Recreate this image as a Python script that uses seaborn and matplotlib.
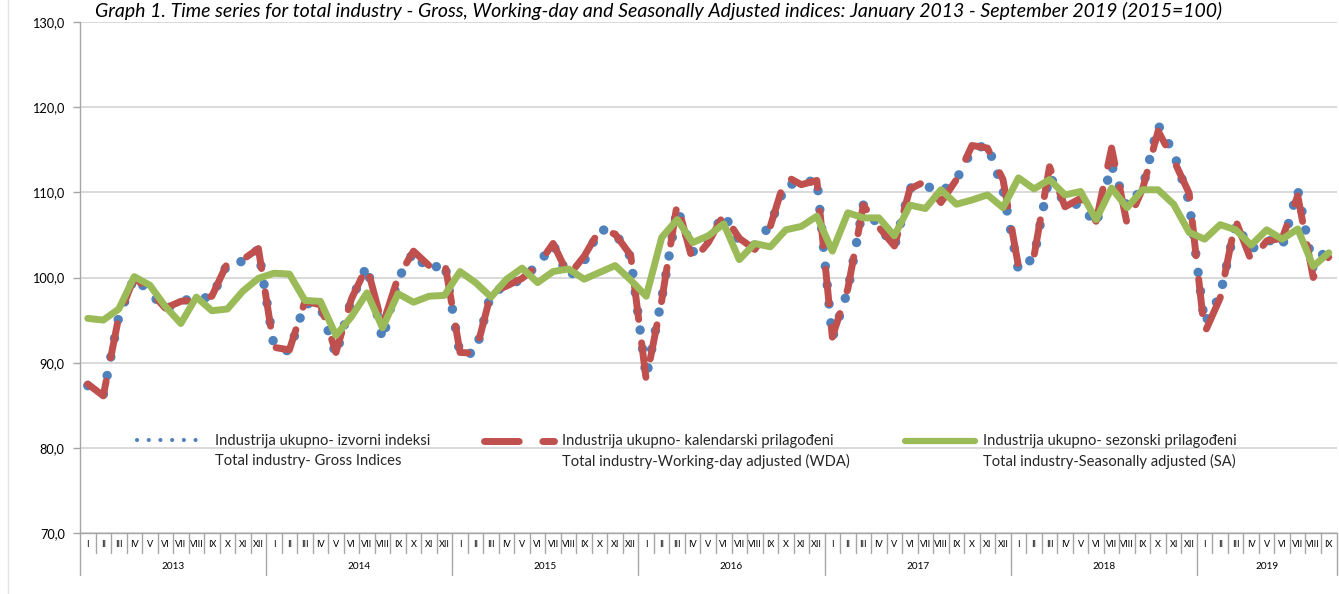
import numpy as np
import pandas as pd
import matplotlib
matplotlib.use("Agg")
import matplotlib.pyplot as plt
import seaborn as sns
from matplotlib.lines import Line2D
from matplotlib.legend_handler import HandlerLine2D

# ---------------- data ----------------
years = [2013, 2014, 2015, 2016, 2017, 2018, 2019]
months_roman = ["I", "II", "III", "IV", "V", "VI", "VII", "VIII", "IX", "X", "XI", "XII"]
n_months_last_year = 9

gross = [87.3, 86.2, 95.4, 100.0, 98.3, 96.2, 97.3, 97.5, 97.7, 101.6, 101.9, 103.3,
         92.0, 91.3, 97.0, 96.6, 90.9, 97.4, 101.4, 92.7, 99.8, 103.0, 100.8, 101.8,
         90.9, 91.2, 98.2, 99.0, 99.8, 101.5, 103.9, 100.0, 101.9, 105.7, 105.2, 102.4,
         88.3, 97.5, 108.1, 103.0, 104.5, 107.4, 104.3, 103.8, 106.2, 111.0, 110.9, 111.6,
         92.9, 98.5, 108.5, 106.0, 103.6, 110.5, 110.8, 110.0, 111.5, 115.0, 115.6, 110.3,
         100.8, 102.4, 112.0, 108.6, 108.6, 106.2, 113.2, 108.3, 110.5, 117.9, 114.7, 108.9,
         94.6, 97.9, 106.3, 103.3, 104.5, 103.6, 110.3, 101.0, 103.8]

wda = [87.5, 86.1, 95.4, 100.0, 98.4, 96.4, 97.2, 97.4, 97.8, 101.7, 102.1, 103.4,
       91.8, 91.5, 97.2, 96.8, 91.2, 97.5, 101.3, 94.4, 100.0, 103.1, 101.4, 101.9,
       91.2, 91.1, 98.2, 99.0, 99.9, 101.4, 104.0, 100.2, 102.5, 105.6, 105.1, 102.6,
       88.0, 97.3, 108.7, 101.9, 104.1, 107.4, 104.6, 103.3, 106.0, 111.9, 110.9, 111.4,
       93.0, 98.7, 108.5, 105.9, 103.7, 110.4, 111.3, 108.8, 111.5, 115.5, 115.2, 111.5,
       101.3, 102.5, 113.0, 108.3, 109.3, 106.6, 115.2, 106.3, 110.4, 117.2, 113.8, 109.9,
       93.5, 97.6, 106.7, 102.0, 104.3, 104.6, 109.6, 100.0, 102.4]

sa = [95.2, 95.0, 96.3, 100.1, 99.1, 96.6, 94.6, 97.7, 96.1, 96.3, 98.4, 99.9,
      100.5, 100.4, 97.3, 97.2, 93.2, 95.4, 98.2, 94.1, 98.1, 97.1, 97.8, 97.9,
      100.7, 99.4, 97.7, 99.8, 101.1, 99.4, 100.7, 101.0, 99.8, 100.6, 101.4, 99.7,
      97.8, 104.7, 106.8, 104.1, 104.9, 106.3, 102.1, 104.0, 103.6, 105.6, 106.0, 107.2,
      103.1, 107.6, 107.0, 107.0, 104.9, 108.5, 108.1, 110.3, 108.6, 109.1, 109.7, 108.2,
      111.7, 110.4, 111.5, 109.7, 110.1, 106.8, 110.5, 108.2, 110.3, 110.3, 108.6, 105.3,
      104.5, 106.2, 105.6, 103.8, 105.6, 104.5, 105.7, 101.3, 102.9]

labels_first = ["Industrija ukupno- izvorni indeksi",
                "Industrija ukupno- kalendarski prilagođeni",
                "Industrija ukupno- sezonski prilagođeni"]
labels_second = ["Total industry- Gross Indices",
                 "Total industry-Working-day adjusted (WDA)",
                 "Total industry-Seasonally adjusted (SA)"]
title = ("Graph 1. Time series for total industry - Gross, Working-day and Seasonally "
         "Adjusted indices: January 2013 - September 2019 (2015=100)")

# ---------------- style ----------------
BLUE = "#4F81BD"
RED = "#C0504D"
GREEN = "#9BBB59"
GRID = "#D9D9D9"
AXC = "#A6A6A6"

sns.set_theme(style="white")
plt.rcParams['font.family'] = ['Lato', 'DejaVu Sans']

W, H = 1339, 594
fig = plt.figure(figsize=(W / 100, H / 100), dpi=100)
x_left, x_right, y_top, y_bot = 80, 1336.5, 22, 533
ax = fig.add_axes([x_left / W, 1 - y_bot / H, (x_right - x_left) / W, (y_bot - y_top) / H])

# month index / labels
month_labels = []
year_of = []
for y in years:
    nm = n_months_last_year if y == years[-1] else 12
    month_labels += months_roman[:nm]
    year_of += [y] * nm
idx = np.arange(len(month_labels))
df = pd.DataFrame({"idx": idx, "gross": gross, "wda": wda, "sa": sa})

# gross: round dotted
sns.lineplot(data=df, x="idx", y="gross", ax=ax, color=BLUE, linewidth=6.8, zorder=3)
lg = ax.lines[-1]
lg.set_linestyle((0, (0.01, 2.0)))
lg.set_dash_capstyle("round")

# working-day adjusted: dashed
sns.lineplot(data=df, x="idx", y="wda", ax=ax, color=RED, linewidth=5.0, zorder=4)
lw_ = ax.lines[-1]
lw_.set_linestyle((0, (5.0, 3.4)))
lw_.set_dash_capstyle("round")

# seasonally adjusted: solid
sns.lineplot(data=df, x="idx", y="sa", ax=ax, color=GREEN, linewidth=5.0, zorder=5)
ax.lines[-1].set_solid_capstyle("round")

# axes
ax.set_xlim(-0.5, len(idx) - 0.5)
ax.set_ylim(70, 130)
yt = np.arange(70, 131, 10)
ax.set_yticks(yt)
ax.set_yticklabels([f"{v:.1f}".replace(".", ",") for v in yt])
ax.yaxis.grid(True, color=GRID, linewidth=1.4, zorder=0)
ax.xaxis.grid(False)
ax.set_axisbelow(True)
ax.set_xlabel("")
ax.set_ylabel("")
for s in ["top", "right"]:
    ax.spines[s].set_visible(False)
for s in ["left", "bottom"]:
    ax.spines[s].set_color(AXC)
    ax.spines[s].set_linewidth(1.0)
ax.tick_params(axis="y", which="major", direction="out", length=5, width=1.0, color=AXC,
               labelsize=9.2, pad=6, labelcolor="#000000", left=True)
ax.set_xticks(idx)
ax.set_xticklabels(month_labels)
ax.tick_params(axis="x", which="major", length=0, labelsize=6.6, pad=5.0, labelcolor="#000000")

# category separators below the axis
trans = ax.get_xaxis_transform()
ax_h = y_bot - y_top
month_depth = (553 - y_bot) / ax_h
year_depth = (575 - y_bot) / ax_h
year_start = [0]
for k in range(1, len(idx)):
    if year_of[k] != year_of[k - 1]:
        year_start.append(k)
for k in range(len(idx) + 1):
    is_year = (k in year_start) or k == len(idx)
    d = year_depth if is_year else month_depth
    ax.plot([k - 0.5, k - 0.5], [0, -d], transform=trans, clip_on=False,
            color=AXC, linewidth=1.0)
for y in years:
    ks = [k for k in idx if year_of[k] == y]
    ax.text(np.mean(ks), -(566.5 - y_bot) / ax_h, str(y), transform=trans,
            ha="center", va="center", fontsize=7.2, color="#000000")

# faint chart-area border on the left
fig.add_artist(Line2D([8 / W, 8 / W], [0, 1], color="#E3E3E3", linewidth=1.0))

# title
fig.text(95 / W, 1 - 11 / H, title, ha="left", va="center", fontsize=14.0,
         style="italic", color="#000000")


# legend (three entries, handle aligned with the first text line)
class ShiftedLine(HandlerLine2D):
    def __init__(self, dy, **kw):
        super().__init__(**kw)
        self.dy = dy

    def create_artists(self, legend, orig_handle, xdescent, ydescent, width, height,
                       fontsize, trans):
        arts = super().create_artists(legend, orig_handle, xdescent, ydescent, width,
                                      height, fontsize, trans)
        for a in arts:
            a.set_ydata(np.asarray(a.get_ydata(), float) + self.dy)
        return arts


LFS = 10.6
handles = [
    Line2D([], [], color=BLUE, linewidth=3.0, linestyle=(0, (0.01, 2.8)), dash_capstyle="round"),
    Line2D([], [], color=RED, linewidth=5.0, linestyle=(0, (5.0, 3.4)), dash_capstyle="round"),
    Line2D([], [], color=GREEN, linewidth=4.5, solid_capstyle="round"),
]
leg_x = [137, 484, 905]
for h, l1, l2, xpx in zip(handles, labels_first, labels_second, leg_x):
    leg = fig.legend(handles=[h], labels=[l1 + "\n" + l2], loc="upper left",
                     bbox_to_anchor=(xpx / W, 1 - 434 / H), frameon=False,
                     fontsize=LFS, handlelength=4.76, handletextpad=0.54,
                     borderpad=0, borderaxespad=0,
                     handler_map={h: ShiftedLine(0.75 * LFS)})
    for t in leg.get_texts():
        t.set_linespacing(1.5)

fig.savefig("out.png", dpi=100, facecolor="white")
